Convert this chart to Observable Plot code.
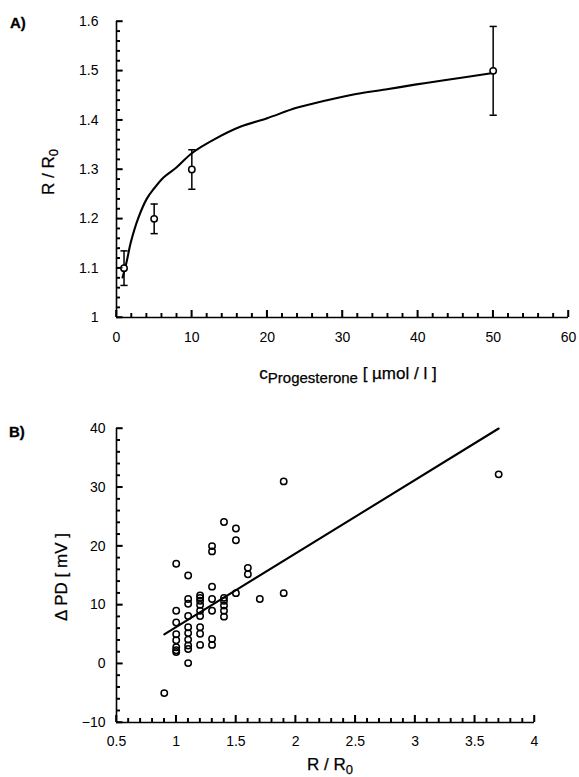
<!DOCTYPE html>
<html><head><meta charset="utf-8">
<script src="https://cdn.jsdelivr.net/npm/d3@7"></script>
<script src="https://cdn.jsdelivr.net/npm/@observablehq/plot@0.6"></script>
<style>
html,body{margin:0;padding:0;background:#fff;}
#chart{width:579px;}
#chart svg{display:block;}
</style></head><body><div id="chart"></div>
<script>
// ---------- Panel A data ----------
const concA = [1, 5, 10, 50];
const ratioA = [1.10, 1.20, 1.30, 1.50];
const errA = [0.035, 0.03, 0.04, 0.09];
const fitConc = [0.8, 1.33, 1.91, 2.9, 4.03, 5.01, 6.24, 7.95, 10.0, 13.1, 16.5, 20.0, 23.9, 27.8, 31.8, 35.7, 39.6, 43.5, 50.2];
const fitRatio = [1.081, 1.112, 1.153, 1.202, 1.241, 1.262, 1.284, 1.304, 1.333, 1.362, 1.387, 1.404, 1.425, 1.440, 1.453, 1.462, 1.472, 1.481, 1.496];
const ticksAx = [0, 10, 20, 30, 40, 50, 60];
const ticksAy = [1, 1.1, 1.2, 1.3, 1.4, 1.5, 1.6];
const labelsAy = ["1", "1.1", "1.2", "1.3", "1.4", "1.5", "1.6"];

// ---------- Panel B data ----------
const ratioB = [
  0.9,
  1.0, 1.0, 1.0, 1.0, 1.0, 1.0, 1.0, 1.0,
  1.1, 1.1, 1.1, 1.1, 1.1, 1.1, 1.1, 1.1, 1.1, 1.1,
  1.2, 1.2, 1.2, 1.2, 1.2, 1.2, 1.2, 1.2, 1.2,
  1.3, 1.3, 1.3, 1.3, 1.3, 1.3, 1.3,
  1.4, 1.4, 1.4, 1.4, 1.4, 1.4,
  1.5, 1.5, 1.5,
  1.6, 1.6,
  1.7,
  1.9, 1.9,
  3.7
];
const deltaPD = [
  -5,
  17, 9, 7, 5, 4, 2.8, 2.3, 2,
  15, 11, 10.2, 8.1, 6.2, 5.2, 4.1, 3.1, 2.5, 0.1,
  11.6, 11.2, 10.7, 10, 9, 8.1, 6.2, 5.1, 3.2,
  20, 19.1, 13.1, 11, 9, 4.2, 3.2,
  24.1, 11.2, 10.7, 9.9, 9, 8,
  23, 21, 12,
  16.3, 15.2,
  11,
  31, 12,
  32.2
];
const regX = [0.9, 3.7];
const regY = [5, 40];
const ticksBx = [0.5, 1, 1.5, 2, 2.5, 3, 3.5, 4];
const labelsBx = ["0.5", "1", "1.5", "2", "2.5", "3", "3.5", "4"];
const ticksBy = [-10, 0, 10, 20, 30, 40];

// ---------- helpers ----------
const FONT = "'Liberation Sans', Arial, Helvetica, sans-serif";
const cap = {draw(ctx, size) { const w = Math.sqrt(size / Math.PI); ctx.moveTo(-w, 0); ctx.lineTo(w, 0); }};
const minor = (a, b, step, majors) => d3.range(Math.round((b - a) / step) + 1).map(i => +(a + i * step).toFixed(4)).filter(v => !majors.some(m => Math.abs(m - v) < 1e-9));
const textStyle = {fontSize: 14, stroke: "#000", strokeWidth: 0.35};

function inwardTicks(xTicks, xStep, yTicks, yStep, xDom, yDom) {
  return [
    Plot.axisX(minor(xDom[0], xDom[1], xStep, xTicks), {tickSize: -4, fill: "none", strokeWidth: 1.4, label: null}),
    Plot.axisX(xTicks, {tickSize: -7, fill: "none", strokeWidth: 1.5, label: null}),
    Plot.axisY(minor(yDom[0], yDom[1], yStep, yTicks), {tickSize: -4, fill: "none", strokeWidth: 1.4, label: null}),
    Plot.axisY(yTicks, {tickSize: -6.5, fill: "none", strokeWidth: 1.5, label: null})
  ];
}

// same inward ticks, also placed with the plot's own scales (robust overlay)
function overlayTicks(svg, xTicks, xStep, yTicks, yStep, xDom, yDom) {
  const sx = svg.scale("x"), sy = svg.scale("y");
  const X0 = sx.apply(xDom[0]), Y0 = sy.apply(yDom[0]);
  const g = d3.select(svg).append("g").attr("stroke", "#000").attr("fill", "none");
  const put = (vals, L, w, vertical) => vals.forEach(v => {
    const l = g.append("line").attr("stroke-width", w);
    if (vertical) { const p = sx.apply(v); l.attr("x1", p).attr("x2", p).attr("y1", Y0).attr("y2", Y0 - L); }
    else { const p = sy.apply(v); l.attr("y1", p).attr("y2", p).attr("x1", X0).attr("x2", X0 + L); }
  });
  put(minor(xDom[0], xDom[1], xStep, xTicks), 4, 1.4, true);
  put(xTicks, 7, 1.5, true);
  put(minor(yDom[0], yDom[1], yStep, yTicks), 4, 1.4, false);
  put(yTicks, 6.5, 1.5, false);
}

const dataA = concA.map((c, i) => ({c, r: ratioA[i], lo: ratioA[i] - errA[i], hi: ratioA[i] + errA[i]}));
const fitA = fitConc.map((c, i) => ({c, r: fitRatio[i]}));
const dataB = ratioB.map((x, i) => ({x, y: deltaPD[i]}));
const lineB = regX.map((x, i) => ({x, y: regY[i]}));

const plotA = Plot.plot({
  width: 579, height: 390,
  marginLeft: 116, marginRight: 11, marginTop: 21, marginBottom: 73,
  style: {fontFamily: FONT, fontSize: "14px", color: "#000", background: "#fff"},
  x: {domain: [0, 60]},
  y: {domain: [1, 1.6]},
  marks: [
    Plot.axisX(ticksAx, {tickSize: 0, tickPadding: 15, label: null, ...textStyle}),
    Plot.axisY(ticksAy, {tickSize: 0, tickPadding: 18, label: null, ...textStyle, tickFormat: (d, i) => labelsAy[i]}),
    ...inwardTicks(ticksAx, 2, ticksAy, 0.02, [0, 60], [1, 1.6]),
    Plot.ruleX([0], {strokeWidth: 1.6}),
    Plot.ruleY([1], {strokeWidth: 1.6}),
    Plot.line(fitA, {x: "c", y: "r", curve: "catmull-rom", strokeWidth: 2.1, stroke: "#000"}),
    Plot.ruleX(dataA, {x: "c", y1: "lo", y2: "hi", strokeWidth: 1.5, stroke: "#000"}),
    Plot.dot(dataA, {x: "c", y: "hi", symbol: cap, r: 3.6, stroke: "#000", strokeWidth: 1.5}),
    Plot.dot(dataA, {x: "c", y: "lo", symbol: cap, r: 3.6, stroke: "#000", strokeWidth: 1.5}),
    Plot.dot(dataA, {x: "c", y: "r", r: 3.2, stroke: "#000", fill: "#fff", strokeWidth: 1.5})
  ]
});

const plotB = Plot.plot({
  width: 579, height: 387,
  marginLeft: 116, marginRight: 45, marginTop: 38, marginBottom: 55,
  style: {fontFamily: FONT, fontSize: "14px", color: "#000", background: "#fff"},
  x: {domain: [0.5, 4]},
  y: {domain: [-10, 40]},
  marks: [
    Plot.axisX(ticksBx, {tickSize: 0, tickPadding: 14, label: null, ...textStyle, tickFormat: (d, i) => labelsBx[i]}),
    Plot.axisY(ticksBy, {tickSize: 0, tickPadding: 11, label: null, ...textStyle}),
    ...inwardTicks(ticksBx, 0.1, ticksBy, 2, [0.5, 4], [-10, 40]),
    Plot.ruleX([0.5], {strokeWidth: 1.6}),
    Plot.ruleY([-10], {strokeWidth: 1.6}),
    Plot.line(lineB, {x: "x", y: "y", strokeWidth: 2.1, stroke: "#000"}),
    Plot.dot(dataB, {x: "x", y: "y", r: 3.2, stroke: "#000", fill: "none", strokeWidth: 1.5})
  ]
});

try { overlayTicks(plotA, ticksAx, 2, ticksAy, 0.02, [0, 60], [1, 1.6]); } catch (e) {}
try { overlayTicks(plotB, ticksBx, 0.1, ticksBy, 2, [0.5, 4], [-10, 40]); } catch (e) {}

// ---------- titles and panel letters ----------
function addText(svg, {x, y, rotate = 0, anchor = "middle", size = 17, weight = "normal", parts}) {
  const t = d3.select(svg).append("text")
    .attr("transform", `translate(${x},${y}) rotate(${rotate})`)
    .attr("text-anchor", anchor)
    .attr("font-family", FONT)
    .attr("font-size", size)
    .attr("font-weight", weight)
    .attr("fill", "#000")
    .attr("stroke", "#000")
    .attr("stroke-width", weight === "bold" ? 0.3 : 0.25);
  parts.forEach(p => {
    const s = t.append("tspan").text(p.t);
    if (p.dy) s.attr("dy", p.dy);
    if (p.size) s.attr("font-size", p.size);
  });
}

addText(plotA, {x: 10, y: 28, anchor: "start", size: 15, weight: "bold", parts: [{t: "A)"}]});
addText(plotA, {x: 54, y: 172, rotate: -90, parts: [{t: "R / R"}, {t: "0", dy: 4, size: 13}]});
addText(plotA, {x: 348, y: 379, parts: [{t: "c"}, {t: "Progesterone", dy: 4, size: 15}, {t: " [ µmol / l ]", dy: -4}]});

addText(plotB, {x: 9, y: 47, anchor: "start", size: 15, weight: "bold", parts: [{t: "B)"}]});
addText(plotB, {x: 67, y: 187, rotate: -90, parts: [{t: "Δ PD [ mV ]"}]});
addText(plotB, {x: 330, y: 380, parts: [{t: "R / R"}, {t: "0", dy: 4, size: 13}]});

document.getElementById("chart").append(plotA, plotB);
</script></body></html>
